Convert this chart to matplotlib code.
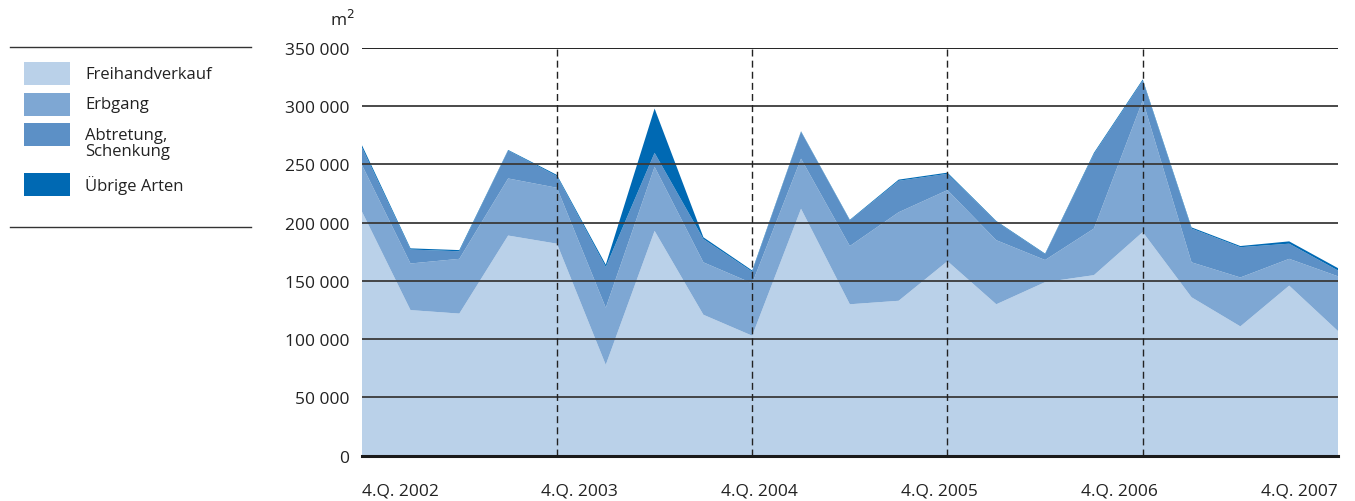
import matplotlib.pyplot as plt
import matplotlib.patches as mpatches
from matplotlib.ticker import FuncFormatter

# quarterly values 4.Q. 2002 .. 4.Q. 2007, in m²
quartale = list(range(21))
freihandverkauf = [210000, 125000, 122000, 189000, 182000, 78000, 193000, 121000, 103000, 212000, 130000,
                   133000, 167000, 130000, 149000, 155000, 192000, 136000, 111000, 146000, 107000]
erbgang = [40000, 40000, 47000, 49000, 48000, 49000, 55000, 45000, 45000, 43000, 50000,
           76000, 61000, 55000, 19000, 40000, 113000, 30000, 42000, 23000, 47000]
abtretung = [15000, 12000, 6500, 24000, 10000, 35000, 12000, 20000, 10000, 23000, 22000,
             27000, 14000, 16000, 5000, 64000, 17000, 29000, 26000, 13000, 5000]
uebrige = [2000, 1000, 1000, 500, 1000, 2000, 38000, 1500, 1000, 500, 500,
           1000, 1000, 500, 500, 1000, 1000, 1000, 1000, 2000, 2000]

serien = ["Freihandverkauf", "Erbgang", "Abtretung,\nSchenkung", "Übrige Arten"]
farben = ["#bad1e9", "#7ea7d3", "#5c90c6", "#0069b3"]
x_labels = ["4.Q. 2002", "4.Q. 2003", "4.Q. 2004", "4.Q. 2005", "4.Q. 2006", "4.Q. 2007"]
y_ticks = [0, 50000, 100000, 150000, 200000, 250000, 300000, 350000]

plt.rcParams["font.family"] = ["Open Sans", "DejaVu Sans"]
textfarbe = "#222222"

fig = plt.figure(figsize=(13.55, 5.02), dpi=100)
ax = fig.add_axes([361.7 / 1355, 1 - 456.7 / 502, (1338 - 361.7) / 1355, (456.7 - 49) / 502])

ax.stackplot(quartale, freihandverkauf, erbgang, abtretung, uebrige,
             colors=farben, linewidth=0, zorder=1)

ax.set_xlim(0, 20)
ax.set_ylim(0, 350000)

# horizontal grid lines on top of the areas
for y in y_ticks[1:]:
    ax.axhline(y, color="#3a3a3a" if y < 350000 else "#111111", lw=1.3, zorder=3)
ax.axhline(0, color="#1a1a1a", lw=2.2, zorder=4, clip_on=False)

# dashed year markers
for xv in [4, 8, 12, 16]:
    ax.axvline(xv, color="#222222", lw=1.0, ls=(0, (5, 3)), zorder=3)

for s in ax.spines.values():
    s.set_visible(False)

ax.set_yticks(y_ticks)
ax.yaxis.set_major_formatter(FuncFormatter(lambda v, p: f"{int(v):,}".replace(",", " ")))
ax.tick_params(axis="y", length=0, pad=9, labelsize=12.5, labelcolor=textfarbe)
ax.set_xticks([])

# x labels spread evenly under the plot (first left-aligned, last right-aligned)
n = len(x_labels)
erste, letzte = 0.0391, 0.9606
for i, lab in enumerate(x_labels):
    if i == 0:
        xf, ha = 0.0, "left"
    elif i == n - 1:
        xf, ha = 1.0, "right"
    else:
        xf, ha = erste + i * (letzte - erste) / (n - 1), "center"
    ax.text(xf, -0.085, lab, transform=ax.transAxes, ha=ha, va="center",
            fontsize=12.5, color=textfarbe)

fig.text(342 / 1355, 1 - 20 / 502, "m$^2$", ha="center", va="center", fontsize=12.5, color=textfarbe)

# legend on the left
fig.add_artist(plt.Line2D([10 / 1355, 251 / 1355], [1 - 48 / 502] * 2, color="#333333", lw=1.0))
fig.add_artist(plt.Line2D([10 / 1355, 251 / 1355], [1 - 228 / 502] * 2, color="#333333", lw=1.0))
boxen = [63, 94, 124, 174]
text_y = [75, 105, 144, 186]
for name, farbe, top, ty in zip(serien, farben, boxen, text_y):
    fig.add_artist(mpatches.Rectangle((24 / 1355, 1 - (top + 23) / 502), 46 / 1355, 23 / 502,
                                      facecolor=farbe, edgecolor="none", transform=fig.transFigure))
    fig.text(85 / 1355, 1 - ty / 502, name, ha="left", va="center", fontsize=12,
             color=textfarbe, linespacing=1.05)

fig.savefig("out.png", dpi=100)
